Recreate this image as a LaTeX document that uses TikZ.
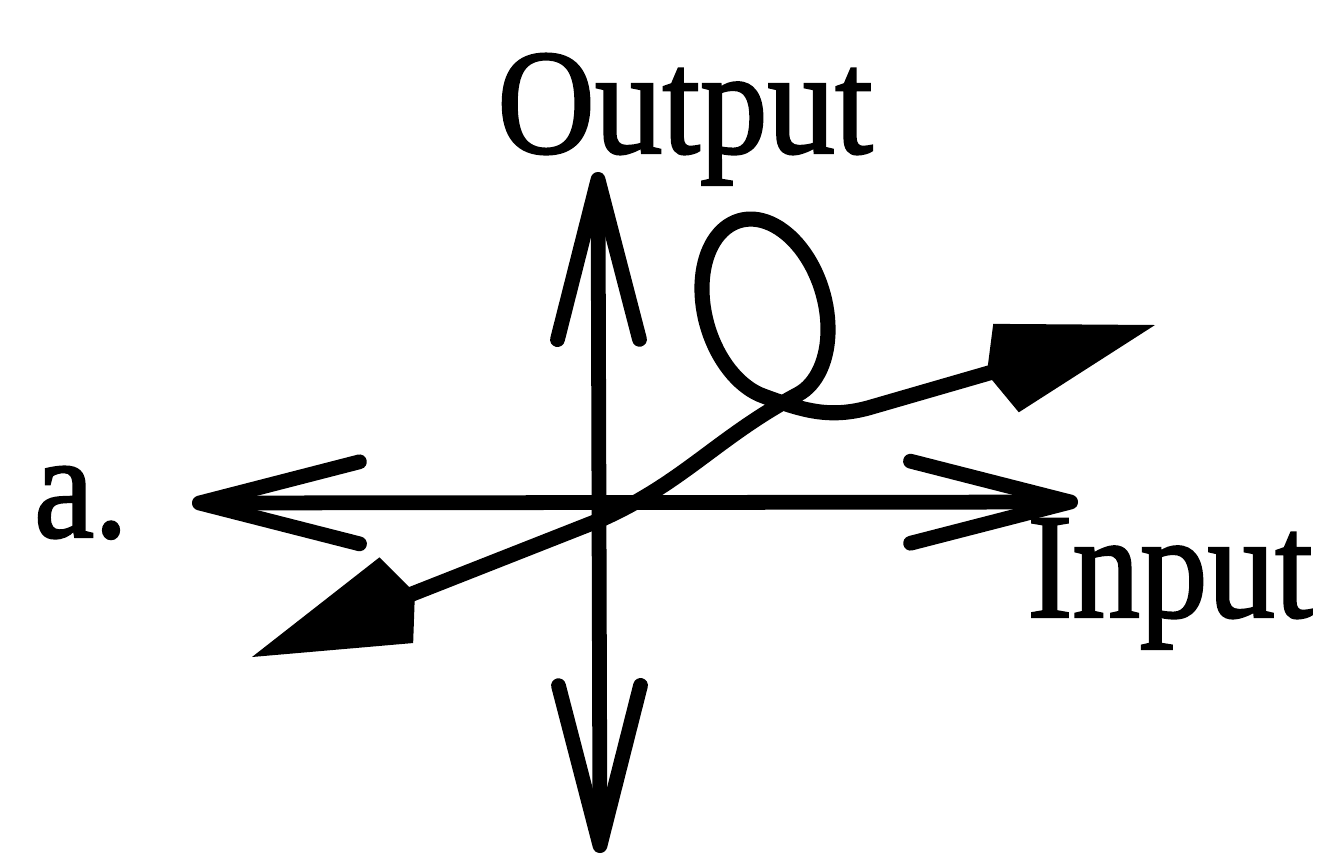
\documentclass[tikz,border=0pt]{standalone}
\usepackage{fontspec}
\setmainfont{Liberation Serif}[FakeStretch=0.9, FakeBold=1.5]
\usetikzlibrary{arrows.meta}

\begin{document}
\begin{tikzpicture}[x=0.01cm, y=0.01cm,
    ax/.style={line width=4.2pt, {Straight Barb[length=1.6cm, width=0.82cm, round]}-{Straight Barb[length=1.6cm, width=0.82cm, round]}},
    crv/.style={line width=4.3pt, line join=round, {Kite[length=1.75cm, width=0.92cm, inset=0.2cm]}-{Kite[length=1.75cm, width=0.92cm, inset=0.2cm]}},
    lbl/.style={inner sep=0pt, anchor=base, font=\fontsize{42.7}{50}\selectfont}]
    \useasboundingbox (0,0) rectangle (1327,853);
    % axes
    \coordinate (top) at (598,681);
    \coordinate (bot) at (600,0);
    \coordinate (lft) at (192,350);
    \coordinate (rgt) at (1078,351);
    \draw[ax] (bot) -- (top);
    \draw[ax] (lft) -- (rgt);
    % looped trajectory (loop = arc of a tilted ellipse)
    \coordinate (tipL) at (252,196);
    \coordinate (mid) at (600,333);
    \coordinate (loopIn) at (798.2,458.8);
    \coordinate (knee) at (868,445);
    \coordinate (tipR) at (1155,528);
    \draw[crv] (tipL) -- (mid) to[out=24,in=208] (loopIn)
        -- plot[domain=-172:155, samples=90, variable=\p]
        ({765-25.4*cos(\p)-57.7*sin(\p)}, {544+88.4*cos(\p)-16.6*sin(\p)})
        to[out=-20,in=195] (knee) -- (tipR);
    % labels
    \node[lbl] (outlbl) at (685,700) {Output};
    \node[lbl] (inlbl) at (1170,236) {Input};
    \node[lbl] (tag) at (81,316) {a.};
\end{tikzpicture}
\end{document}
